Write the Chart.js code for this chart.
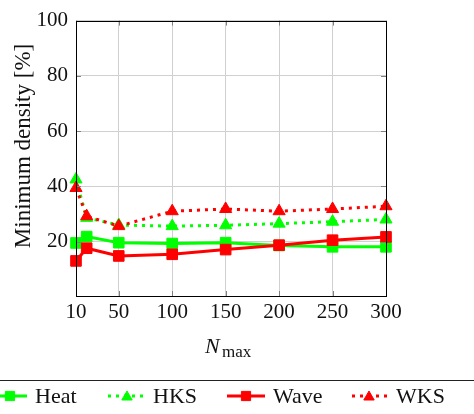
<!DOCTYPE html>
<html>
<head>
<meta charset="utf-8">
<script src="https://cdn.jsdelivr.net/npm/chart.js@4/dist/chart.umd.min.js"></script>
<style>
  html, body { margin: 0; padding: 0; background: #fff; }
  #wrap { width: 474px; height: 414px; position: relative; }
</style>
</head>
<body>
<div id="wrap"><canvas id="chart" width="474" height="414"></canvas></div>
<script>
// ---------------------- Data ----------------------
const nMax = [10, 20, 50, 100, 150, 200, 250, 300];
const heatValues = [19.5, 21.8, 19.6, 19.3, 19.6, 18.6, 18.1, 18.1];
const hksValues  = [42.5, 28.6, 26.0, 25.6, 25.9, 26.5, 27.2, 28.0];
const waveValues = [13.0, 17.6, 14.8, 15.4, 17.1, 18.7, 20.5, 21.7];
const wksValues  = [39.4, 29.2, 25.6, 31.0, 31.8, 31.0, 31.8, 32.8];
const xTicks = [10, 50, 100, 150, 200, 250, 300];
const yTicks = [20, 40, 60, 80, 100];

const GREEN = "#00ff00";
const RED = "#ff0000";
const SERIF = "'Liberation Serif', 'DejaVu Serif', serif";

function toPoints(values) {
  return nMax.map((x, i) => ({ x, y: values[i] }));
}

// legend entries (drawn by hand below the plot)
const legendItems = [
  { label: "Heat", color: GREEN, dash: [], marker: "rect",     x0: -8,  x1: 27,  mx: 10,  tx: 35 },
  { label: "HKS",  color: GREEN, dash: [3, 5], marker: "triangle", x0: 108, x1: 144, mx: 127, tx: 153 },
  { label: "Wave", color: RED,   dash: [], marker: "rect",     x0: 227, x1: 265, mx: 246, tx: 273 },
  { label: "WKS",  color: RED,   dash: [3, 5], marker: "triangle", x0: 352, x1: 388, mx: 369, tx: 396 }
];

// ---------------------- Plugins ----------------------
const frameAndLabels = {
  id: "frameAndLabels",
  afterDraw(chart) {
    const ctx = chart.ctx;
    const a = chart.chartArea;
    const xs = chart.scales.x;
    const ys = chart.scales.y;

    ctx.save();
    // inward tick marks
    ctx.strokeStyle = "#808080";
    ctx.lineWidth = 1;
    xTicks.forEach(v => {
      const px = Math.round(xs.getPixelForValue(v)) + 0.5;
      ctx.beginPath();
      ctx.moveTo(px, a.bottom); ctx.lineTo(px, a.bottom - 5);
      ctx.moveTo(px, a.top); ctx.lineTo(px, a.top + 5);
      ctx.stroke();
    });
    yTicks.forEach(v => {
      const py = Math.round(ys.getPixelForValue(v)) + 0.5;
      ctx.beginPath();
      ctx.moveTo(a.left, py); ctx.lineTo(a.left + 5, py);
      ctx.moveTo(a.right, py); ctx.lineTo(a.right - 5, py);
      ctx.stroke();
    });

    // axis box
    ctx.strokeStyle = "#000";
    ctx.strokeRect(Math.round(a.left) + 0.5, Math.round(a.top) + 0.5,
      Math.round(a.right - a.left), Math.round(a.bottom - a.top));

    // y axis title
    ctx.fillStyle = "#111";
    ctx.font = "23px " + SERIF;
    ctx.textAlign = "center";
    ctx.textBaseline = "alphabetic";
    ctx.save();
    ctx.translate(30, 146);
    ctx.rotate(-Math.PI / 2);
    ctx.fillText("Minimum density [%]", 0, 0);
    ctx.restore();

    // x axis title: N_max
    ctx.textAlign = "left";
    ctx.font = "italic 22px " + SERIF;
    ctx.fillText("N", 205, 353);
    ctx.font = "17px " + SERIF;
    ctx.fillText("max", 222, 357);

    // legend separator
    ctx.strokeStyle = "#222";
    ctx.beginPath();
    ctx.moveTo(0, 380.5); ctx.lineTo(474, 380.5);
    ctx.stroke();

    // legend entries
    const ly = 396;
    legendItems.forEach(item => {
      ctx.strokeStyle = item.color;
      ctx.fillStyle = item.color;
      ctx.lineWidth = 3;
      ctx.setLineDash(item.dash);
      ctx.beginPath();
      ctx.moveTo(item.x0, ly); ctx.lineTo(item.x1, ly);
      ctx.stroke();
      ctx.setLineDash([]);
      ctx.lineWidth = 1;
      Chart.helpers.drawPoint(ctx, {
        pointStyle: item.marker,
        radius: item.marker === "rect" ? 6.5 : 6,
        rotation: 0,
        borderWidth: 1
      }, item.mx, item.marker === "rect" ? ly : ly + 1);
      ctx.fillStyle = "#111";
      ctx.font = "22px " + SERIF;
      ctx.textAlign = "left";
      ctx.textBaseline = "alphabetic";
      ctx.fillText(item.label, item.tx, 403);
    });
    ctx.restore();
  }
};

// ---------------------- Chart ----------------------
function makeDataset(label, values, color, dashed, marker, order) {
  return {
    label,
    data: toPoints(values),
    borderColor: color,
    backgroundColor: color,
    borderWidth: 3,
    borderDash: dashed ? [3, 5] : [],
    pointStyle: marker,
    pointRadius: marker === "rect" ? 7.5 : 7,
    pointBorderWidth: 1,
    pointBackgroundColor: color,
    pointBorderColor: color,
    tension: 0,
    clip: false,
    order
  };
}

new Chart(document.getElementById("chart"), {
  type: "line",
  data: {
    datasets: [
      makeDataset("Heat", heatValues, GREEN, false, "rect", 4),
      makeDataset("HKS", hksValues, GREEN, true, "triangle", 3),
      makeDataset("Wave", waveValues, RED, false, "rect", 2),
      makeDataset("WKS", wksValues, RED, true, "triangle", 1)
    ]
  },
  options: {
    responsive: false,
    animation: false,
    devicePixelRatio: 1,
    layout: { padding: { top: 18, right: 88, bottom: 0, left: 0 } },
    plugins: {
      legend: { display: false },
      tooltip: { enabled: false }
    },
    scales: {
      x: {
        type: "linear",
        min: 10,
        max: 300,
        afterBuildTicks: scale => { scale.ticks = xTicks.map(v => ({ value: v })); },
        afterFit: scale => { scale.height = 118; },
        ticks: {
          color: "#111",
          font: { family: SERIF, size: 21 },
          padding: 4,
          maxRotation: 0,
          autoSkip: false,
          callback: v => String(v)
        },
        grid: { color: "#d0d0d0", lineWidth: 1, drawTicks: false },
        border: { display: false }
      },
      y: {
        type: "linear",
        min: 0.3,
        max: 100,
        afterBuildTicks: scale => { scale.ticks = yTicks.map(v => ({ value: v })); },
        afterFit: scale => { scale.width = 76; },
        ticks: {
          color: "#111",
          font: { family: SERIF, size: 21 },
          padding: 8,
          callback: v => String(v)
        },
        grid: { color: "#d0d0d0", lineWidth: 1, drawTicks: false },
        border: { display: false }
      }
    }
  },
  plugins: [frameAndLabels]
});
</script>
</body>
</html>
